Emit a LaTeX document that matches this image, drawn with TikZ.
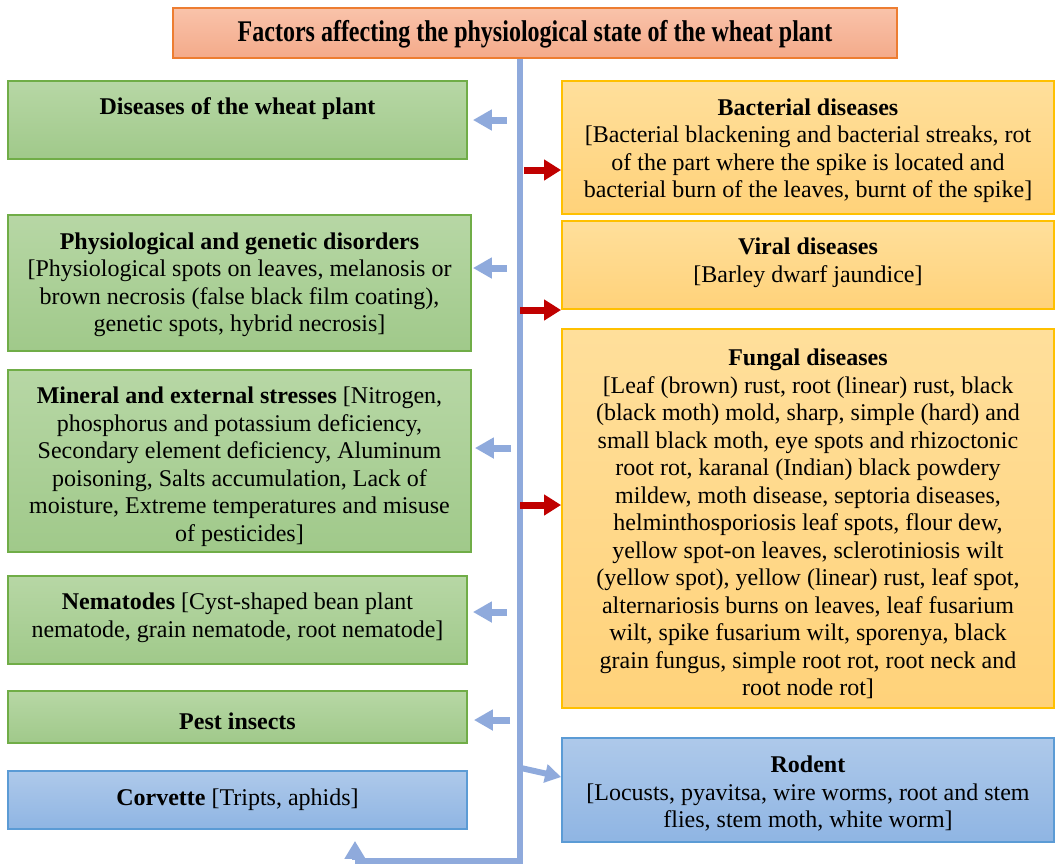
\documentclass[tikz,border=0pt]{standalone}
\usepackage{fontspec}
\setmainfont{Liberation Serif}
\usetikzlibrary{arrows.meta,fit}
\definecolor{gtop}{RGB}{183,215,165}
\definecolor{gbot}{RGB}{160,201,138}
\definecolor{gline}{RGB}{112,173,71}
\definecolor{otop}{RGB}{255,223,155}
\definecolor{obot}{RGB}{255,210,122}
\definecolor{oline}{RGB}{255,192,0}
\definecolor{btop}{RGB}{174,201,234}
\definecolor{bbot}{RGB}{143,181,227}
\definecolor{bline}{RGB}{91,155,213}
\definecolor{ttop}{RGB}{249,195,170}
\definecolor{tbot}{RGB}{244,170,138}
\definecolor{tline}{RGB}{237,125,49}
\definecolor{conn}{RGB}{143,170,220}
\definecolor{redarr}{RGB}{192,0,0}
\tikzset{
  boxbase/.style={inner sep=0pt, line width=0.9pt},
  gbox/.style={boxbase, draw=gline, top color=gtop, bottom color=gbot},
  obox/.style={boxbase, draw=oline, top color=otop, bottom color=obot},
  bbox/.style={boxbase, draw=bline, top color=btop, bottom color=bbot},
  tbox/.style={boxbase, draw=tline, top color=ttop, bottom color=tbot},
  txt/.style={align=center, inner sep=0pt, yshift=-1.4pt, font=\fontsize{12}{13.75}\selectfont},
  larrow/.style={draw=conn, line width=3.5pt, -{Triangle[length=9.5pt,width=10pt]}},
  rarrow/.style={draw=redarr, line width=3.5pt, -{Triangle[length=8.5pt,width=10pt]}},
  mainline/.style={draw=conn, line width=3pt},
}
\begin{document}
\begin{tikzpicture}[x=0.5pt,y=-0.5pt]
\useasboundingbox (0,0) rectangle (1061,864);
% boxes
\node[tbox, fit={(173,8) (897,58)}] (title) {};
\node[gbox, fit={(8,81) (467,159)}] (d1) {};
\node[gbox, fit={(8,215) (471,351)}] (d2) {};
\node[gbox, fit={(8,370) (471,552)}] (d3) {};
\node[gbox, fit={(8,576) (467,664)}] (d4) {};
\node[gbox, fit={(8,691) (467,743)}] (d5) {};
\node[bbox, fit={(8,771) (467,829)}] (d6) {};
\node[obox, fit={(562,81) (1054,214)}] (r1) {};
\node[obox, fit={(562,221) (1054,309)}] (r2) {};
\node[obox, fit={(562,329) (1054,708)}] (r3) {};
\node[bbox, fit={(562,738) (1054,842)}] (r4) {};
% texts
\node[inner sep=0pt, font=\fontsize{15}{17}\selectfont\bfseries] (titlet) at (535,34) {\scalebox{0.8}[1]{Factors affecting the physiological state of the wheat plant}};
\node[txt] (d1t) at (237.5,106) {\textbf{Diseases of the wheat plant}};
\node[txt] (d2t) at (239.5,282) {\textbf{Physiological and genetic disorders}\\
{[}Physiological spots on leaves, melanosis or\\
brown necrosis (false black film coating),\\
genetic spots, hybrid necrosis]};
\node[txt] (d3t) at (239.5,464) {\textbf{Mineral and external stresses} {[}Nitrogen,\\
phosphorus and potassium deficiency,\\
Secondary element deficiency, Aluminum\\
poisoning, Salts accumulation, Lack of\\
moisture, Extreme temperatures and misuse\\
of pesticides]};
\node[txt] (d4t) at (237.5,615) {\textbf{Nematodes} {[}Cyst-shaped bean plant\\
nematode, grain nematode, root nematode]};
\node[txt] (d5t) at (237.5,718) {\textbf{Pest insects}};
\node[txt] (d6t) at (237.5,797) {\textbf{Corvette} {[}Tripts, aphids]};
\node[txt] (r1t) at (808,148) {\textbf{Bacterial diseases}\\
{[}Bacterial blackening and bacterial streaks, rot\\
of the part where the spike is located and\\
bacterial burn of the leaves, burnt of the spike]};
\node[txt] (r2t) at (808,260) {\textbf{Viral diseases}\\
{[}Barley dwarf jaundice]};
\node[txt] (r3t) at (808,521) {\textbf{Fungal diseases}\\
{[}Leaf (brown) rust, root (linear) rust, black\\
(black moth) mold, sharp, simple (hard) and\\
small black moth, eye spots and rhizoctonic\\
root rot, karanal (Indian) black powdery\\
mildew, moth disease, septoria diseases,\\
helminthosporiosis leaf spots, flour dew,\\
yellow spot-on leaves, sclerotiniosis wilt\\
(yellow spot), yellow (linear) rust, leaf spot,\\
alternariosis burns on leaves, leaf fusarium\\
wilt, spike fusarium wilt, sporenya, black\\
grain fungus, simple root rot, root neck and\\
root node rot]};
\node[txt] (r4t) at (808,791) {\textbf{Rodent}\\
{[}Locusts, pyavitsa, wire worms, root and stem\\
flies, stem moth, white worm]};
% main connector
\coordinate (top) at (520,58);
\coordinate (bot) at (520,861);
\coordinate (botl) at (355,861);
\draw[mainline] (title.south -| top) -- (bot) -- (botl);
\draw[draw=conn, line width=3pt, shorten >=5.5pt, -{Triangle[length=9pt,width=10pt]}] ([yshift=0.75pt]botl) -- (d6.south -| botl);
% left arrows
\coordinate (a1) at (507,120);
\coordinate (a2) at (507,268);
\coordinate (a3) at (511,448);
\coordinate (a4) at (507,612);
\coordinate (a5) at (510,720);
\draw[larrow, shorten >=2.5pt] (a1) -- (a1 -| d1.east);
\draw[larrow, shorten >=0.5pt] (a2) -- (a2 -| d2.east);
\draw[larrow, shorten >=1.5pt] (a3) -- (a3 -| d3.east);
\draw[larrow, shorten >=2.5pt] (a4) -- (a4 -| d4.east);
\draw[larrow, shorten >=3pt] (a5) -- (a5 -| d5.east);
% red arrows
\coordinate (b1) at (524,170);
\coordinate (b2) at (520,310);
\coordinate (b3) at (520,505);
\draw[rarrow] (b1) -- (b1 -| r1.west);
\draw[rarrow] (b2) -- (b2 -| r2.west);
\draw[rarrow] (b3) -- (b3 -| r3.west);
% rodent arrow
\coordinate (c1) at (521,768);
\coordinate (c2) at (562,777);
\draw[draw=conn, line width=3pt, -{Triangle[length=8pt,width=9pt]}] (c1) -- (c2 -| r4.west);
\end{tikzpicture}
\end{document}
